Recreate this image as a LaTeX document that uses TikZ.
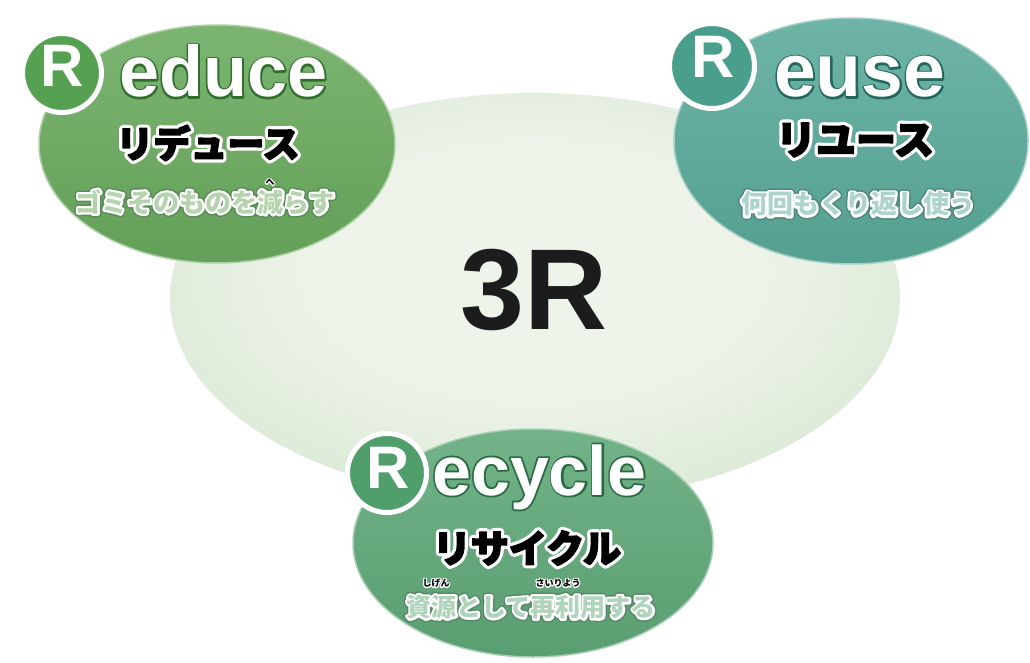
\documentclass[tikz,border=0pt]{standalone}
\usepackage{fontspec}
\setmainfont{Liberation Sans}
\newfontfamily\jp{Noto Sans CJK JP}
\usetikzlibrary{shapes.geometric,calc}
\definecolor{blobA}{HTML}{EEF4EA}
\definecolor{blobB}{HTML}{D4E5CE}
\definecolor{blobC}{HTML}{B6D0AF}
\definecolor{redG}{HTML}{6AAA5E}
\definecolor{redC}{HTML}{56A052}
\definecolor{redD}{HTML}{2F6E2C}
\definecolor{useG}{HTML}{5AAA9A}
\definecolor{useC}{HTML}{4A9E8C}
\definecolor{useD}{HTML}{23685C}
\definecolor{recG}{HTML}{5FA878}
\definecolor{recC}{HTML}{4F9E6C}
\definecolor{recD}{HTML}{2A6A42}
\definecolor{ink}{HTML}{1C1C1C}
\pgfdeclareradialshading{blobshade}{\pgfpoint{0bp}{4bp}}{color(0bp)=(blobA); color(14bp)=(blobA); color(36bp)=(blobB); color(50bp)=(blobC); color(80bp)=(blobC)}
\newsavebox\oltbox
% stroked copy of the text in the box: #1 colour, #2 line width
\newcommand\strokecopy[2]{%
  \rlap{\color{#1}\special{pdf:literal direct 1 Tr #2 w 1 j 1 J}\usebox\oltbox\special{pdf:literal direct 0 Tr 0.4 w 0 j 0 J}}}
% #1 halo colour, #2 halo line width, #3 fill colour, #4 text
\newcommand\halo[4]{%
  \setbox\oltbox\hbox{#4}%
  \strokecopy{#1}{#2}%
  {\color{#3}\usebox\oltbox}}
% halo, then a heavier fill (fill + thin stroke): #5 extra weight
\newcommand\halob[5]{%
  \setbox\oltbox\hbox{#4}%
  \strokecopy{#1}{#2}%
  {\color{#3}\special{pdf:literal direct 2 Tr #5 w 1 j}\usebox\oltbox\special{pdf:literal direct 0 Tr 0.4 w 0 j}}}
% two halos: outer #1/#2, inner #3/#4, fill #5, text #6
\newcommand\halott[6]{%
  \setbox\oltbox\hbox{#6}%
  \strokecopy{#1}{#2}%
  \strokecopy{#3}{#4}%
  {\color{#5}\usebox\oltbox}}
\tikzset{
  blob/.style={ellipse, inner sep=0, minimum width=730pt, minimum height=410pt, shading=blobshade},
  petal/.style={ellipse, inner sep=0, line width=1.5pt, draw=#1!55!white, top color=#1!88!white, bottom color=#1!94!black},
  rcirc/.style={circle, inner sep=0, minimum size=79pt, line width=5pt, draw=white, fill=#1},
  rletter/.style={text=white, inner sep=0, font=\bfseries\fontsize{60}{60}\selectfont},
  latin/.style={anchor=base west, inner sep=0, font=\bfseries\fontsize{#1}{#1}\selectfont},
  kana/.style={inner sep=0, font=\jp\bfseries\fontsize{#1}{#1}\selectfont},
  small/.style={inner sep=0, font=\jp\bfseries\fontsize{#1}{#1}\selectfont},
  ruby/.style={inner sep=0, font=\jp\bfseries\fontsize{9}{9}\selectfont},
  title/.style={inner sep=0, text=ink, font=\bfseries\fontsize{115}{115}\selectfont},
}
\begin{document}
\begin{tikzpicture}[x=1pt,y=-1pt]
\useasboundingbox[fill=white] (0,0) rectangle (1030,663);
% central blob
\node[blob] (blob) at (535,298) {};
% petals
\node[petal=redG, minimum width=356pt, minimum height=238pt] (reduce) at (217,144) {};
\node[petal=useG, minimum width=354pt, minimum height=246pt] (reuse) at (851,141) {};
\node[petal=recG, minimum width=360pt, minimum height=228pt] (recycle) at (533,543) {};
% R circles
\node[rcirc=redC] (rc1) at (62,73) {};
\node[rcirc=useC, minimum size=85pt] (rc2) at (712,66) {};
\node[rcirc=recC] (rc3) at (387,473) {};
% 3R
\node[title] (three) at (534,290) {3R};
% Reduce
\node[rletter] (R1) at (62,66) {R};
\node[latin=72] (t1) at (119,97) {\halo{redD}{3.5}{white}{educe}};
\node[kana=37] (k1) at (208,143) {\halob{white}{8}{black}{リデュース}{1.6}};
\node[small=26] (s1) at (205,202) {\halott{redD!80}{7.5}{white}{4.5}{redG!50!white}{ゴミそのものを減らす}};
\node[ruby] (u1) at (270,182) {\halo{white}{2.5}{black}{へ}};
% Reuse
\node[rletter] (R2) at (713,57) {R};
\node[latin=75] (t2) at (774,97) {\halo{useD}{3.5}{white}{euse}};
\node[kana=40] (k2) at (855,140) {\halob{white}{8}{black}{リユース}{1.6}};
\node[small=26] (s2) at (858,204) {\halott{useD!80}{7.5}{white}{4.5}{useG!50!white}{何回もくり返し使う}};
% Recycle
\node[rletter] (R3) at (388,468) {R};
\node[latin=70] (t3) at (432,495) {\halo{recD}{3.5}{white}{ecycle}};
\node[kana=38] (k3) at (527,548) {\halob{white}{8}{black}{リサイクル}{1.6}};
\node[small=25] (s3) at (531,607) {\halott{recD!80}{7.5}{white}{4.5}{recG!50!white}{資源として再利用する}};
\node[ruby] (u2) at (436,583) {\halo{white}{2.5}{black}{しげん}};
\node[ruby] (u3) at (558,583) {\halo{white}{2.5}{black}{さいりよう}};
\end{tikzpicture}
\end{document}
